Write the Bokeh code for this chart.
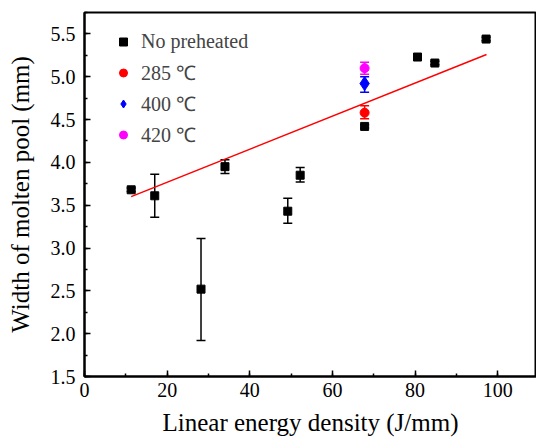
from bokeh.plotting import figure
from bokeh.models import (ColumnDataSource, Whisker, TeeHead, Legend, LegendItem,
                          SingleIntervalTicker, Range1d, CustomJSTickFormatter)
from bokeh.embed import file_html
from bokeh.resources import INLINE

# --- data ---
np_x = [11.3, 17.0, 28.2, 34.0, 49.2, 52.2, 67.8, 80.6, 84.8, 97.2]
np_y = [3.68, 3.61, 2.52, 3.95, 3.43, 3.85, 4.42, 5.23, 5.16, 5.44]
np_lo = [3.66, 3.36, 1.92, 3.87, 3.29, 3.77, 4.40, 5.21, 5.14, 5.42]
np_hi = [3.70, 3.86, 3.11, 4.03, 3.58, 3.94, 4.44, 5.25, 5.18, 5.46]

r285_x = [67.8]; r285_y = [4.58]; r285_lo = [4.51]; r285_hi = [4.66]
r400_x = [67.8]; r400_y = [4.92]; r400_lo = [4.82]; r400_hi = [5.00]
r420_x = [67.8]; r420_y = [5.10]; r420_lo = [5.03]; r420_hi = [5.17]

fit_x = [11.3, 97.3]
fit_y = [3.60, 5.26]

FONT = "Liberation Serif"

p = figure(width=536, height=438, output_backend="svg", toolbar_location=None,
           x_range=Range1d(0, 109.4), y_range=Range1d(1.5, 5.75),
           min_border_left=84, min_border_right=0, min_border_top=12, min_border_bottom=62)
p.grid.visible = False
p.outline_line_color = "black"
p.outline_line_width = 2
p.background_fill_color = "white"

p.line(fit_x, fit_y, line_color="red", line_width=1.5)

def add_series(x, y, lo, hi, color, marker, size):
    src = ColumnDataSource(dict(x=x, y=y, lo=lo, hi=hi))
    w = Whisker(source=src, base="x", lower="lo", upper="hi", line_color=color, line_width=1.5,
                upper_head=TeeHead(size=9, line_color=color, line_width=1.5),
                lower_head=TeeHead(size=9, line_color=color, line_width=1.5))
    p.add_layout(w)
    return p.scatter("x", "y", source=src, marker=marker, size=size, fill_color=color,
                     line_color=color)

g0 = add_series(np_x, np_y, np_lo, np_hi, "black", "square", 8)
g1 = add_series(r285_x, r285_y, r285_lo, r285_hi, "red", "circle", 9)
g2 = add_series(r400_x, r400_y, r400_lo, r400_hi, "blue", "diamond", 14)
g3 = add_series(r420_x, r420_y, r420_lo, r420_hi, "magenta", "circle", 9)

legend = Legend(items=[LegendItem(label="No preheated", renderers=[g0]),
                       LegendItem(label="285 ℃", renderers=[g1]),
                       LegendItem(label="400 ℃", renderers=[g2]),
                       LegendItem(label="420 ℃", renderers=[g3])],
                location=(29, 226), border_line_color=None, background_fill_alpha=0,
                label_text_font=FONT, label_text_font_size="20px", padding=0, margin=0,
                spacing=0, glyph_width=20, glyph_height=31, label_height=31, label_standoff=8)
p.add_layout(legend)

p.xaxis.ticker = SingleIntervalTicker(interval=20, num_minor_ticks=2)
p.yaxis.ticker = SingleIntervalTicker(interval=0.5, num_minor_ticks=2)
p.yaxis.formatter = CustomJSTickFormatter(code="return tick.toFixed(1);")

for ax in (p.xaxis[0], p.yaxis[0]):
    ax.axis_line_width = 2
    ax.axis_line_color = "black"
    ax.major_tick_in = 6
    ax.major_tick_out = 0
    ax.minor_tick_in = 3
    ax.minor_tick_out = 0
    ax.major_tick_line_width = 1.5
    ax.minor_tick_line_width = 1.5
    ax.major_label_text_font = FONT
    ax.major_label_text_font_size = "20px"
    ax.major_label_text_color = "black"
    ax.axis_label_text_font = FONT
    ax.axis_label_text_font_size = "25px"
    ax.axis_label_text_font_style = "normal"
    ax.axis_label_text_color = "black"

p.xaxis.major_label_standoff = 6
p.yaxis.major_label_standoff = 9
p.xaxis.axis_label = "Linear energy density (J/mm)"
p.yaxis.axis_label = "Width of molten pool (mm)"
p.xaxis.axis_label_standoff = 9
p.yaxis.axis_label_standoff = 14

open("out.html", "w").write(file_html(p, INLINE))
